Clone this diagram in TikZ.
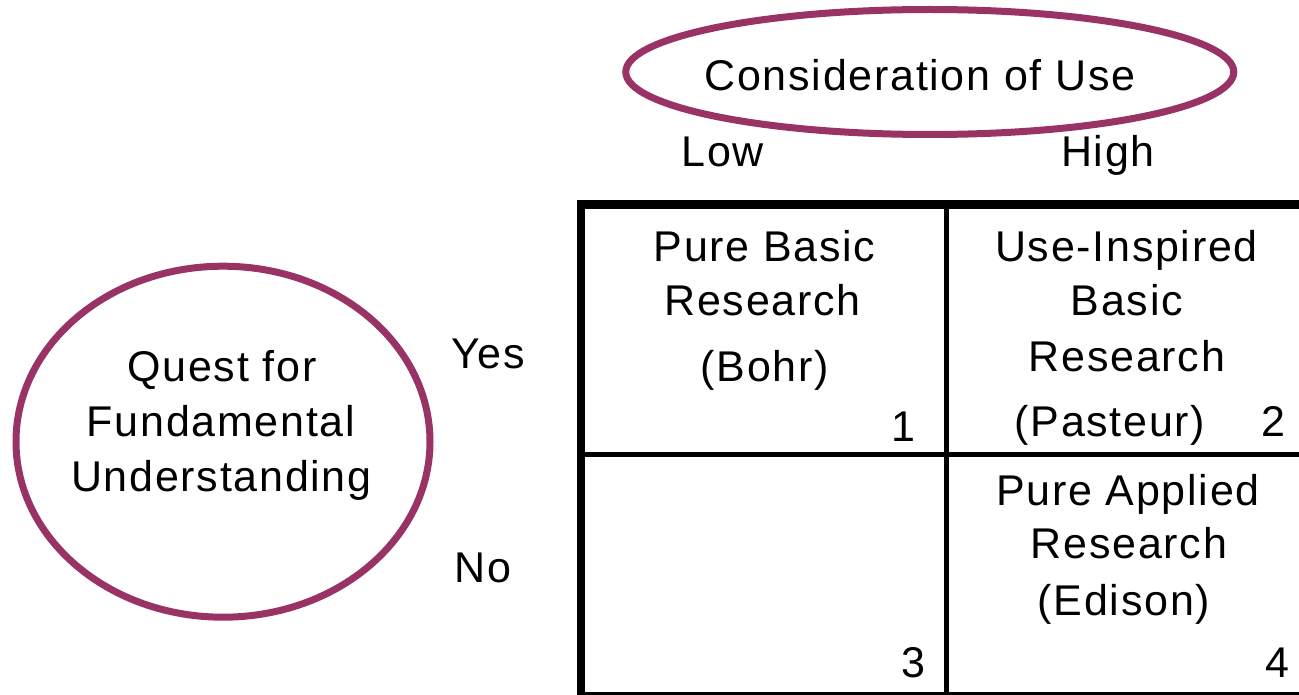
\documentclass[tikz,border=0pt]{standalone}
\usepackage{fontspec}
\setmainfont{Liberation Sans}[LetterSpace=4.0]
\usetikzlibrary{shapes.geometric}
\definecolor{plum}{RGB}{153,51,102}
\begin{document}
\begin{tikzpicture}[x=1pt,y=-1pt,
  txt/.style={inner sep=0pt, anchor=base, font=\fontsize{43}{54}\selectfont},
  oval/.style={draw=plum, line width=7pt, ellipse, inner sep=0pt},
  frame/.style={line width=8.5pt},
  rule/.style={line width=4.5pt}]
\useasboundingbox (0,0) rectangle (1299,695);

% ovals
\node[oval, minimum width=608pt, minimum height=125pt] (use) at (929.75,72) {};
\node[txt] (useT) at (920,90.7) {Consideration of Use};
\node[oval, minimum width=414pt, minimum height=351pt] (quest) at (223,441.7) {};
\node[txt] (q1) at (222,381.7) {Quest for};
\node[txt] (q2) at (221,436.7) {Fundamental};
\node[txt] (q3) at (221.4,491.7) {Understanding};

% axis labels
\node[txt] (low) at (722.6,166.7) {Low};
\node[txt] (high) at (1108,166.7) {High};
\node[txt] (yes) at (488,368) {Yes};
\node[txt] (no) at (483,582) {No};

% table
\draw[frame] (581,204.5) rectangle (1304,696);
\draw[rule] (946.5,204.5) -- (946.5,696);
\draw[rule] (581,454.5) -- (1304,454.5);

% cell 1
\node[txt] (c1a) at (764.5,261.7) {Pure Basic};
\node[txt] (c1b) at (762.5,316) {Research};
\node[txt] (c1c) at (765,381.7) {(Bohr)};
\node[txt] (n1) at (903,441.7) {1};
% cell 2
\node[txt] (c2a) at (1126.5,261.7) {Use-Inspired};
\node[txt] (c2b) at (1127,315) {Basic};
\node[txt] (c2c) at (1127,371.7) {Research};
\node[txt] (c2d) at (1110,436.7) {(Pasteur)};
\node[txt] (n2) at (1273,436.7) {2};
% cell 3
\node[txt] (n3) at (913,677) {3};
% cell 4
\node[txt] (c4a) at (1128,505) {Pure Applied};
\node[txt] (c4b) at (1129,558) {Research};
\node[txt] (c4c) at (1124,615) {(Edison)};
\node[txt] (n4) at (1277,677) {4};
\end{tikzpicture}
\end{document}
